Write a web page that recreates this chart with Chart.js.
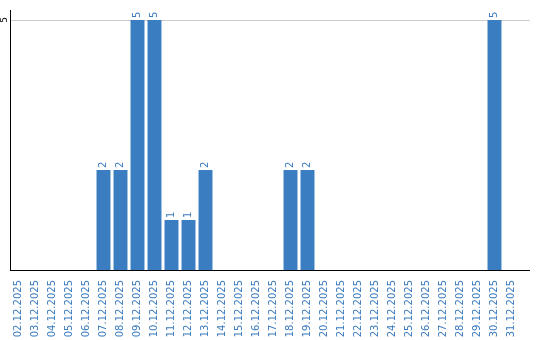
<!DOCTYPE html>
<html>
<head>
<meta charset="utf-8">
<script src="https://cdn.jsdelivr.net/npm/chart.js@4/dist/chart.umd.min.js"></script>
<style>
  html, body { margin: 0; padding: 0; background: #fff; }
  #wrap { width: 540px; height: 340px; }
</style>
</head>
<body>
<div id="wrap"><canvas id="chart"></canvas></div>
<script>
// VERİ
const gunler = [
  "02.12.2025", "03.12.2025", "04.12.2025", "05.12.2025", "06.12.2025",
  "07.12.2025", "08.12.2025", "09.12.2025", "10.12.2025", "11.12.2025",
  "12.12.2025", "13.12.2025", "14.12.2025", "15.12.2025", "16.12.2025",
  "17.12.2025", "18.12.2025", "19.12.2025", "20.12.2025", "21.12.2025",
  "22.12.2025", "23.12.2025", "24.12.2025", "25.12.2025", "26.12.2025",
  "27.12.2025", "28.12.2025", "29.12.2025", "30.12.2025", "31.12.2025"
];
const adet = [0, 0, 0, 0, 0, 2, 2, 5, 5, 1, 1, 2, 0, 0, 0, 0, 2, 2, 0, 0, 0, 0, 0, 0, 0, 0, 0, 0, 5, 0];
const yTikler = [5];

const mavi = "#3a7dc0";
const yaziMavi = "#3b7bbf";

// bar üstü değerler + y etiketi + eksen uzatma
const etiketPlugin = {
  id: "etiketler",
  afterDatasetsDraw(chart) {
    const ctx = chart.ctx;
    const area = chart.chartArea;
    const y = chart.scales.y;
    ctx.save();

    // çizgileri 10px sağa uzat
    ctx.lineWidth = 1;
    ctx.strokeStyle = "#cccccc";
    const y5 = Math.round(y.getPixelForValue(5)) + 0.5;
    ctx.beginPath();
    ctx.moveTo(area.right, y5);
    ctx.lineTo(area.right + 10, y5);
    ctx.stroke();
    ctx.strokeStyle = "#000";
    ctx.beginPath();
    ctx.moveTo(area.right, area.bottom + 0.5);
    ctx.lineTo(area.right + 10, area.bottom + 0.5);
    ctx.stroke();

    // y etiketi
    ctx.font = "9px 'DejaVu Sans'";
    ctx.fillStyle = "#000";
    yTikler.forEach(v => {
      ctx.save();
      ctx.translate(5, y.getPixelForValue(v));
      ctx.rotate(-Math.PI / 2);
      ctx.textAlign = "center";
      ctx.textBaseline = "middle";
      ctx.fillText(String(v), 0, 0);
      ctx.restore();
    });

    // değerler
    ctx.font = "10px 'DejaVu Sans'";
    ctx.fillStyle = yaziMavi;
    chart.getDatasetMeta(0).data.forEach((bar, i) => {
      if (!adet[i]) return;
      ctx.save();
      ctx.translate(bar.x, bar.y - 2);
      ctx.rotate(-Math.PI / 2);
      ctx.textAlign = "left";
      ctx.textBaseline = "middle";
      ctx.fillText(String(adet[i]), 0, 0);
      ctx.restore();
    });
    ctx.restore();
  }
};

new Chart(document.getElementById("chart"), {
  type: "bar",
  data: {
    labels: gunler,
    datasets: [{
      data: adet,
      backgroundColor: mavi,
      categoryPercentage: 1,
      barPercentage: 0.82
    }]
  },
  options: {
    responsive: true,
    maintainAspectRatio: false,
    animation: false,
    layout: { padding: { top: 10, right: 20, left: 0, bottom: 0 } },
    plugins: { legend: { display: false }, tooltip: { enabled: false } },
    scales: {
      x: {
        grid: { display: false },
        border: { color: "#000", width: 1 },
        ticks: {
          color: yaziMavi,
          font: { family: "DejaVu Sans", size: 10 },
          minRotation: 90,
          maxRotation: 90,
          autoSkip: false,
          padding: 2
        },
        afterFit: s => { s.height = 70; }
      },
      y: {
        min: 0,
        max: 5.2,
        border: { color: "#000", width: 1 },
        grid: { color: "#cccccc", drawTicks: false },
        ticks: { display: false },
        afterBuildTicks: s => { s.ticks = yTikler.map(v => ({ value: v })); },
        afterFit: s => { s.width = 10; }
      }
    }
  },
  plugins: [etiketPlugin]
});
</script>
</body>
</html>
